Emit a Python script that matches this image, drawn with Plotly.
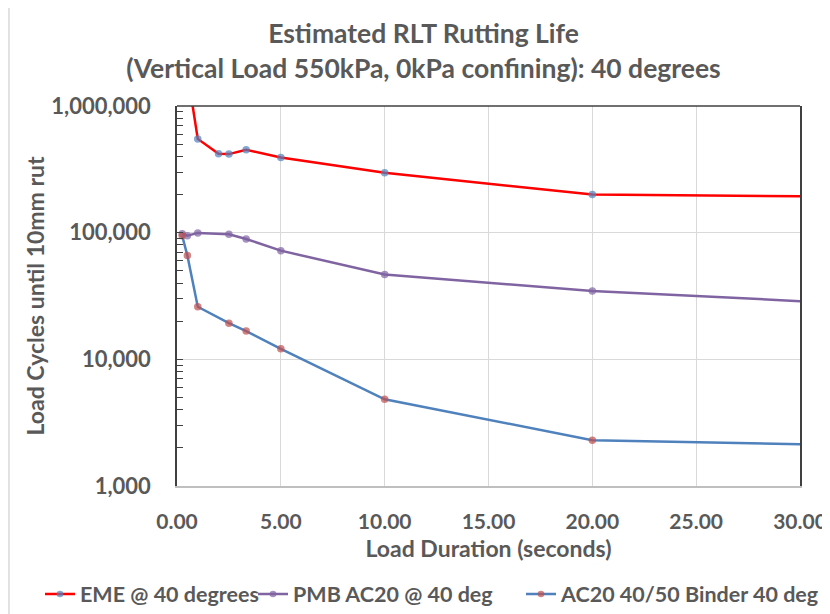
import plotly.graph_objects as go

# Data
eme_x = [0.5, 1.0, 2.0, 2.5, 3.33, 5.0, 10.0, 20.0, 30.0]
eme_y = [1850000, 550000, 419000, 417000, 451000, 392000, 297000, 200000, 194000]

pmb_x = [0.25, 0.5, 1.0, 2.5, 3.33, 5.0, 10.0, 20.0, 30.0]
pmb_y = [98200, 94700, 99600, 97000, 89200, 72100, 46700, 34700, 28800]

ac_x = [0.25, 0.5, 1.0, 2.5, 3.33, 5.0, 10.0, 20.0, 30.0]
ac_y = [94600, 65900, 26000, 19300, 16700, 12100, 4840, 2300, 2140]

x_ticks = [0, 5, 10, 15, 20, 25, 30]
y_ticks = [1000, 10000, 100000, 1000000]

FONT = "Lato"
GREY = "#595959"
W, H = 822, 606  # page body adds an 8px offset

def sizes(n):
    # last point lies at the plot's right edge, where no marker shows
    return [7.5] * (n - 1) + [0]

fig = go.Figure()
fig.add_trace(go.Scatter(
    x=eme_x, y=eme_y, name="<b>EME @ 40 degrees</b>", mode="lines+markers",
    line=dict(color="#ff0000", width=2.5),
    marker=dict(color="#4f81bd", size=sizes(len(eme_x)), line=dict(width=0)),
    legend="legend",
))
fig.add_trace(go.Scatter(
    x=pmb_x, y=pmb_y, name="<b>PMB AC20 @ 40 deg</b>", mode="lines+markers",
    line=dict(color="#8064a2", width=2.5),
    marker=dict(color="#8064a2", size=sizes(len(pmb_x)), line=dict(width=0)),
    legend="legend2",
))
fig.add_trace(go.Scatter(
    x=ac_x, y=ac_y, name="<b>AC20 40/50 Binder 40 deg</b>", mode="lines+markers",
    line=dict(color="#4f81bd", width=2.5),
    marker=dict(color="#c0504d", size=sizes(len(ac_x)), line=dict(width=0)),
    legend="legend3",
))

def leg(x):
    return dict(
        orientation="h", x=x, xanchor="left", xref="container",
        y=0.033, yanchor="middle", yref="container",
        font=dict(family=FONT, size=21.5, color=GREY),
        itemwidth=30, bgcolor="rgba(0,0,0,0)",
    )

fig.update_layout(
    width=W, height=H,
    margin=dict(l=169, r=30, t=98, b=128, autoexpand=False),
    paper_bgcolor="white", plot_bgcolor="white",
    font=dict(family=FONT, color=GREY, size=18),
    title=dict(
        text="<b>Estimated RLT Rutting Life<br>(Vertical Load 550kPa, 0kPa confining): 40 degrees</b>",
        x=0.5055, xanchor="center", xref="container",
        y=0.9415, yanchor="middle", yref="container",
        font=dict(family=FONT, size=26.5, color=GREY),
    ),
    xaxis=dict(
        range=[0, 30], tickvals=x_ticks, ticktext=[f"<b>{v:.2f}</b>" for v in x_ticks],
        showgrid=True, gridcolor="#d9d9d9", gridwidth=1,
        showline=True, linecolor="#bfbfbf", linewidth=1.5,
        ticks="", zeroline=False, ticklabelstandoff=16,
        tickfont=dict(family=FONT, size=21, color=GREY),
        title=dict(text="<b>Load Duration (seconds)</b>", standoff=9,
                   font=dict(family=FONT, size=23, color=GREY)),
        automargin=False,
    ),
    yaxis=dict(
        type="log", range=[3, 6],
        tickvals=y_ticks, ticktext=[f"<b>{v:,}</b>" for v in y_ticks],
        showgrid=True, gridcolor="#d9d9d9", gridwidth=1,
        showline=True, linecolor="#404040", linewidth=1.5, mirror=True,
        ticks="inside", ticklen=6, tickcolor="#404040",
        minor=dict(ticks="inside", ticklen=6, tickcolor="#404040", dtick="D1", showgrid=False),
        zeroline=False, ticklabelstandoff=20,
        tickfont=dict(family=FONT, size=22, color=GREY),
        title=dict(text="<b>Load Cycles until 10mm rut</b>", standoff=0,
                   font=dict(family=FONT, size=23, color=GREY)),
        automargin=False,
    ),
    legend=leg(32 / W),
    legend2=leg(245 / W),
    legend3=leg(513 / W),
    showlegend=True,
)

# top border of plot area (dark) and outer chart border (light)
fig.add_shape(type="line", xref="paper", yref="paper", x0=0, x1=1, y0=1, y1=1,
              line=dict(color="#404040", width=1.5))
fig.add_shape(type="line", xref="paper", yref="paper", x0=-0.2697, x1=1.1, y0=1.266, y1=1.266,
              line=dict(color="#d9d9d9", width=1.5))
fig.add_shape(type="line", xref="paper", yref="paper", x0=-0.2697, x1=-0.2697, y0=1.266, y1=-0.4,
              line=dict(color="#d9d9d9", width=1.5))

fig.write_html("out.html", default_width=f"{W}px", default_height=f"{H}px")
